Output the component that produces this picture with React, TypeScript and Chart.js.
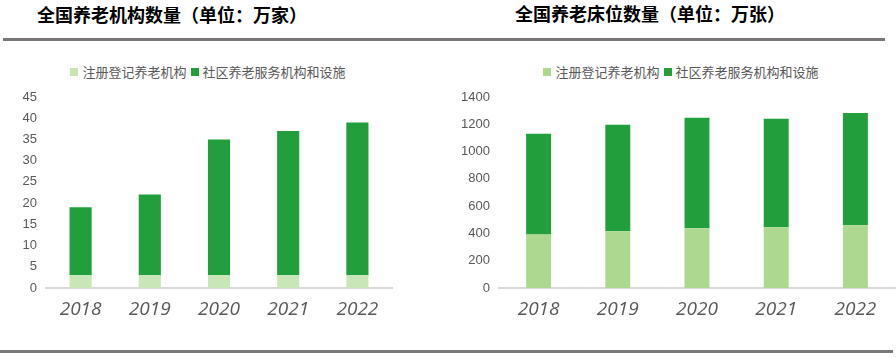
import React, { useEffect, useRef } from "react";
import { Chart, registerables } from "chart.js";

Chart.register(...registerables);

const years = ["2018", "2019", "2020", "2021", "2022"];
const seriesNames = ["注册登记养老机构", "社区养老服务机构和设施"];

// 全国养老机构数量（万家）
const instRegistered = [3, 3, 3, 3, 3];
const instCommunity = [16, 19, 32, 34, 36];
const instTicks = { min: 0, max: 45, step: 5 };

// 全国养老床位数量（万张）
const bedRegistered = [393, 416, 438, 445, 460];
const bedCommunity = [737, 780, 809, 795, 823];
const bedTicks = { min: 0, max: 1400, step: 200 };

const DARK = "#229e3d";
const LIGHT_LEFT = "#c9e6b8";
const LIGHT_RIGHT = "#acd890";
const TEXT = "#595959";

type Props = {
  left: number;
  width: number;
  yWidth: number;
  padRight: number;
  light: string;
  reg: number[];
  com: number[];
  ticks: { min: number; max: number; step: number };
  barPct: number;
};

function BarChart(p: Props) {
  const ref = useRef<HTMLCanvasElement | null>(null);
  useEffect(() => {
    if (!ref.current) return;
    const chart = new Chart(ref.current, {
      type: "bar",
      data: {
        labels: years,
        datasets: [
          { label: seriesNames[0], data: p.reg, backgroundColor: p.light, categoryPercentage: 1, barPercentage: p.barPct },
          { label: seriesNames[1], data: p.com, backgroundColor: DARK, categoryPercentage: 1, barPercentage: p.barPct },
        ],
      },
      options: {
        animation: false,
        responsive: false,
        maintainAspectRatio: false,
        layout: { padding: { top: 97, left: 0, right: p.padRight, bottom: 29 } },
        plugins: { legend: { display: false }, tooltip: { enabled: false }, title: { display: false } },
        scales: {
          x: {
            stacked: true,
            grid: { display: false, drawTicks: false },
            border: { display: true, color: "#d9d9d9", width: 2 },
            ticks: {
              color: TEXT,
              padding: 10,
              font: { family: "'Open Sans', 'Noto Sans', sans-serif", size: 19, style: "italic" },
            },
            afterFit: (s: any) => { s.height = 40; },
          },
          y: {
            stacked: true,
            min: p.ticks.min,
            max: p.ticks.max,
            grid: { display: false, drawTicks: false },
            border: { display: false },
            ticks: {
              stepSize: p.ticks.step,
              color: TEXT,
              padding: 9,
              font: { family: "'Liberation Sans', Arial, sans-serif", size: 13 },
              callback: (v: any) => String(v),
            },
            afterFit: (s: any) => { s.width = p.yWidth; },
          },
        },
      },
    });
    return () => chart.destroy();
  }, []);
  return (
    <canvas
      ref={ref}
      width={p.width}
      height={357}
      style={{ position: "absolute", left: p.left, top: 0, width: p.width, height: 357 }}
    />
  );
}

function Legend({ center, light }: { center: number; light: string }) {
  const item = (c: string, t: string) => (
    <span style={{ display: "inline-flex", alignItems: "center", marginRight: 4 }}>
      <span style={{ display: "inline-block", width: 8, height: 8, background: c, marginRight: 4 }} />
      <span>{t}</span>
    </span>
  );
  return (
    <div
      style={{
        position: "absolute",
        left: center - 200,
        width: 400,
        top: 62,
        height: 18,
        textAlign: "center",
        fontFamily: "'Noto Sans CJK SC', sans-serif",
        fontSize: 13,
        lineHeight: "18px",
        color: TEXT,
        whiteSpace: "nowrap",
      }}
    >
      {item(light, seriesNames[0])}
      {item(DARK, seriesNames[1])}
    </div>
  );
}

const titleStyle: React.CSSProperties = {
  position: "absolute",
  top: 2,
  fontFamily: "'Noto Sans CJK SC', sans-serif",
  fontWeight: 700,
  fontSize: 18,
  lineHeight: "24px",
  color: "#000",
  whiteSpace: "nowrap",
};

export default function App() {
  return (
    <div style={{ position: "fixed", left: 0, top: 0, width: 896, height: 357, background: "#fff", overflow: "hidden" }}>
      <div style={{ ...titleStyle, left: 37 }}>全国养老机构数量（单位：万家）</div>
      <div style={{ ...titleStyle, left: 515, top: 1 }}>全国养老床位数量（单位：万张）</div>
      <div style={{ position: "absolute", left: 3, top: 38, width: 882, height: 3, background: "#7a7675" }} />
      <div style={{ position: "absolute", left: 0, top: 350, width: 893, height: 3, background: "#7a7a7a" }} />
      <Legend center={210} light={LIGHT_LEFT} />
      <Legend center={683} light={LIGHT_RIGHT} />
      <BarChart left={0} width={448} yWidth={46} padRight={56} light={LIGHT_LEFT} reg={instRegistered} com={instCommunity} ticks={instTicks} barPct={0.32} />
      <BarChart left={448} width={448} yWidth={51} padRight={1} light={LIGHT_RIGHT} reg={bedRegistered} com={bedCommunity} ticks={bedTicks} barPct={0.315} />
    </div>
  );
}
